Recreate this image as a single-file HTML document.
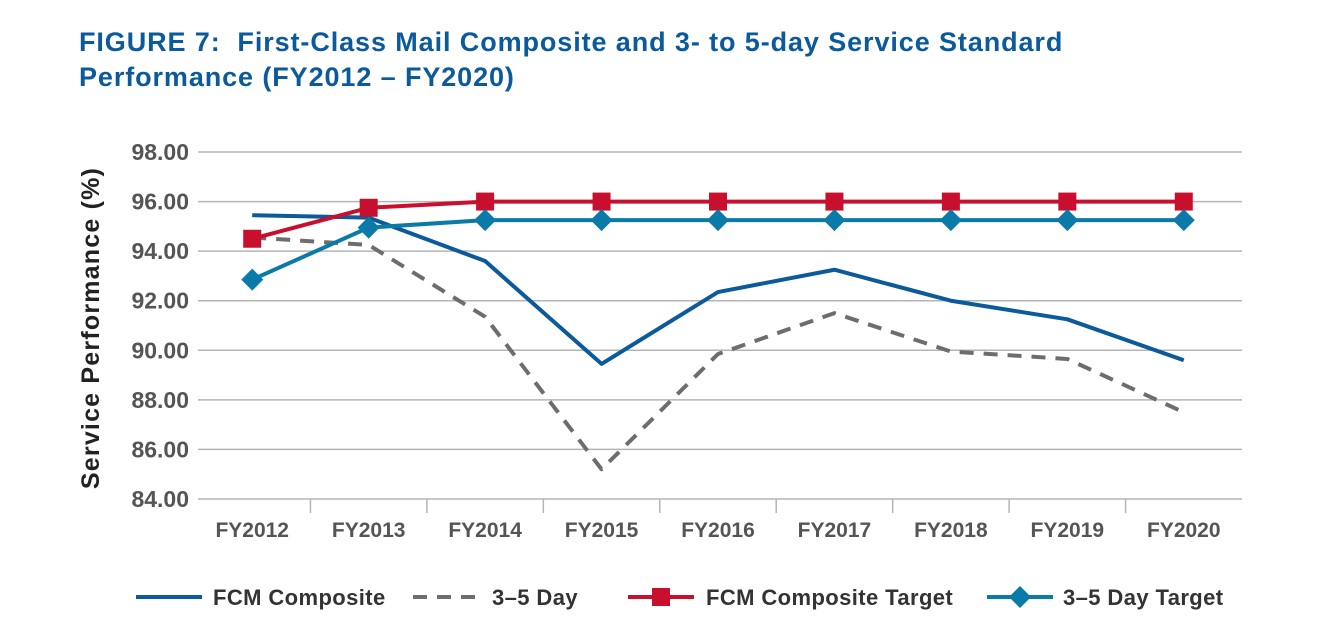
<!DOCTYPE html>
<html><head><meta charset="utf-8"><style>
body{margin:0;background:#fff;width:1342px;height:644px;overflow:hidden;font-family:"Liberation Sans",sans-serif}
.t{position:absolute;left:79px;color:#0a5a9c;font-size:27px;font-weight:bold;letter-spacing:0.9px;white-space:nowrap}
</style></head><body>
<div class="t" style="top:27px"><span style="font-weight:900">FIGURE 7:</span>&nbsp; First-Class Mail Composite and 3- to 5-day Service Standard</div>
<div class="t" style="top:62px">Performance (FY2012 – FY2020)</div>
<svg id="c" width="1342" height="644" style="position:absolute;left:0;top:0"></svg>
<script>
const cats=["FY2012","FY2013","FY2014","FY2015","FY2016","FY2017","FY2018","FY2019","FY2020"];
const fcm=[95.45,95.35,93.6,89.45,92.35,93.25,92.0,91.25,89.6];
const day35=[94.55,94.25,91.35,85.2,89.85,91.5,89.95,89.65,87.5];
const fcmTarget=[94.5,95.75,96,96,96,96,96,96,96];
const dayTarget=[92.85,94.95,95.25,95.25,95.25,95.25,95.25,95.25,95.25];
const yTicks=[84,86,88,90,92,94,96,98];
const yLabels=["84.00","86.00","88.00","90.00","92.00","94.00","96.00","98.00"];
const L=194,R=1242,T=152,B=499,band=(R-L)/cats.length;
const x=i=>L+band*(i+0.5), y=v=>B-(v-84)/(98-84)*(B-T);
const s=document.getElementById('c'),NS="http://www.w3.org/2000/svg";
function mk(t,a,p){const e=document.createElementNS(NS,t);for(const k in a)e.setAttribute(k,a[k]);(p||s).appendChild(e);return e;}
yTicks.forEach((v,i)=>{
 const g=mk('line',{x1:198,x2:R,y1:y(v),y2:y(v),stroke:'#b5b5b5','stroke-width':1.5});
 
 
 const t=mk('text',{x:189,y:y(v)+8,'text-anchor':'end','font-size':23,'font-weight':'bold',fill:'#555'});t.textContent=yLabels[i];
 
 
});
for(let i=1;i<cats.length;i++){const tk=mk('line',{x1:L+band*i,x2:L+band*i,y1:B,y2:B+14,stroke:'#b5b5b5','stroke-width':1.5});
 
 }
cats.forEach((c,i)=>{const t=mk('text',{x:x(i),y:537,'text-anchor':'middle','font-size':21,'font-weight':'bold',fill:'#555'});t.textContent=c;
 
 });
const yt=mk('text',{transform:'translate(99,328) rotate(-90)','text-anchor':'middle','font-size':25,'font-weight':'bold',fill:'#222','letter-spacing':1.2});yt.textContent='Service Performance (%)';


function line(d,col,dash,name){const p=mk('polyline',{points:d.map((v,i)=>x(i)+','+y(v)).join(' '),fill:'none',stroke:col,'stroke-width':4,'stroke-dasharray':dash||'none','stroke-linejoin':'round'});
 
 }
line(day35,'#6d6d6d','14 10','line-3-5-day');
line(fcm,'#0a5a9c',null,'line-fcm-composite');
line(fcmTarget,'#c8102e',null,'line-fcm-target');
line(dayTarget,'#0a7aa8',null,'line-3-5-day-target');
fcmTarget.forEach((v,i)=>{const r=mk('rect',{x:x(i)-9,y:y(v)-9,width:18,height:18,fill:'#c8102e'});
 
 });
dayTarget.forEach((v,i)=>{const cx=x(i),cy=y(v);const d=mk('polygon',{points:`${cx},${cy-11} ${cx+11},${cy} ${cx},${cy+11} ${cx-11},${cy}`,fill:'#0a7aa8'});
 
 });
const LY=597;
function leg(x1,tx,col,dash,mark,label,name){
 const g=mk('g',{});
 
 
 mk('line',{x1:x1,x2:x1+66,y1:LY,y2:LY,stroke:col,'stroke-width':4,'stroke-dasharray':dash||'none'},g);
 const m=x1+33;
 if(mark==='sq')mk('rect',{x:m-9,y:LY-9,width:18,height:18,fill:col},g);
 if(mark==='di')mk('polygon',{points:`${m},${LY-11} ${m+11},${LY} ${m},${LY+11} ${m-11},${LY}`,fill:col},g);
 const t=mk('text',{x:tx,y:LY+8,'font-size':22,'font-weight':'bold',fill:'#333','letter-spacing':0.4},g);t.textContent=label;
}
leg(136,213,'#0a5a9c',null,null,'FCM Composite','legend-fcm-composite');
leg(413,492,'#6d6d6d','14 10',null,'3–5 Day','legend-3-5-day');
leg(628,706,'#c8102e',null,'sq','FCM Composite Target','legend-fcm-target');
leg(987,1063,'#0a7aa8',null,'di','3–5 Day Target','legend-3-5-day-target');
</script>
</body></html>
